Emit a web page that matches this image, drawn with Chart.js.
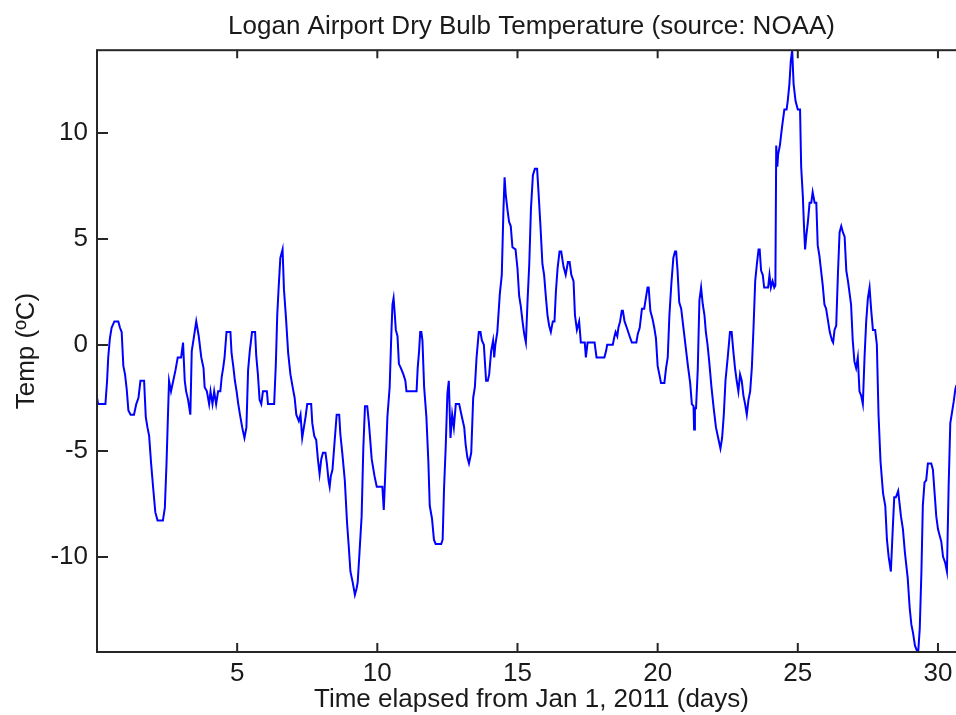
<!DOCTYPE html>
<html>
<head>
<meta charset="utf-8">
<script src="https://cdn.jsdelivr.net/npm/chart.js@4"></script>
<style>
  html, body { margin: 0; padding: 0; background: #fff; overflow: hidden; }
</style>
</head>
<body>
<canvas id="Chart_Temp" width="966" height="715"></canvas>
<script>
// time in days since Jan 1 2011, temperature in deg C
const dayElapsed = [
  0.00, 0.04, 0.30, 0.36, 0.40, 0.46, 0.52, 0.62, 0.76, 0.82, 0.88, 0.94, 1.00, 1.06, 1.12, 1.20, 1.32, 1.40, 1.48, 1.55,
  1.68, 1.74, 1.80, 1.86, 1.93, 2.00, 2.08, 2.16, 2.35, 2.42, 2.48, 2.53, 2.57, 2.64, 2.72, 2.80, 2.88, 3.00, 3.07, 3.13,
  3.18, 3.25, 3.33, 3.38, 3.45, 3.54, 3.63, 3.72, 3.80,
  3.84, 3.92, 4.00, 4.05, 4.12, 4.18, 4.25, 4.32, 4.40, 4.45, 4.50, 4.55, 4.62, 4.76, 4.80, 4.86, 4.92, 4.98, 5.04, 5.10,
  5.18, 5.26, 5.33, 5.39, 5.45, 5.53, 5.64, 5.68, 5.74, 5.80, 5.86, 5.92, 6.06, 6.10, 6.32, 6.38, 6.43, 6.48, 6.54, 6.62,
  6.67, 6.74, 6.82, 6.90, 6.98, 7.05, 7.11, 7.20,
  7.26, 7.32, 7.38, 7.44, 7.50, 7.64, 7.68, 7.75, 7.82, 7.88, 7.94, 8.00, 8.06, 8.15, 8.20, 8.26, 8.30, 8.34, 8.40, 8.48,
  8.55, 8.64, 8.68, 8.75, 8.84, 8.92, 8.98, 9.04, 9.12, 9.20, 9.26, 9.30, 9.36, 9.44, 9.50, 9.56, 9.64, 9.70, 9.80, 9.90,
  9.98, 10.18, 10.23, 10.28, 10.36, 10.44, 10.50, 10.54, 10.58, 10.62,
  10.66, 10.72, 10.77, 10.84, 10.93, 11.00, 11.04, 11.40, 11.44, 11.49, 11.53, 11.57, 11.61, 11.67, 11.75, 11.82, 11.87, 11.95, 12.02, 12.08,
  12.28, 12.33, 12.38, 12.44, 12.50, 12.55, 12.61, 12.67, 12.73, 12.80, 12.92, 13.00, 13.10, 13.15, 13.21, 13.27, 13.35, 13.42, 13.48, 13.54,
  13.62, 13.68, 13.73, 13.80, 13.88, 13.94, 13.99, 14.06, 14.13, 14.17, 14.21, 14.28, 14.37, 14.44, 14.50, 14.54,
  14.58, 14.64, 14.70, 14.76, 14.82, 14.93, 15.00, 15.06, 15.12, 15.18, 15.24, 15.30, 15.36, 15.42, 15.48, 15.55, 15.62, 15.70, 15.75, 15.82,
  15.89, 15.95, 16.01, 16.07, 16.13, 16.19, 16.26, 16.32, 16.37, 16.43, 16.50, 16.56, 16.64, 16.72, 16.80, 16.86, 16.92, 17.00, 17.05, 17.12,
  17.20, 17.26, 17.40, 17.44, 17.50, 17.75, 17.82, 18.10,
  18.16, 18.20, 18.40, 18.46, 18.50, 18.56, 18.60, 18.66, 18.72, 18.76, 18.82, 18.90, 19.00, 19.08, 19.24, 19.29, 19.36, 19.44, 19.52, 19.58,
  19.64, 19.68, 19.74, 19.82, 19.88, 19.94, 20.00, 20.06, 20.12, 20.24, 20.30, 20.36, 20.42, 20.49, 20.56, 20.62, 20.66, 20.71, 20.77, 20.84,
  20.92, 21.00, 21.08, 21.16, 21.22, 21.28, 21.30, 21.33, 21.37, 21.43, 21.49, 21.55, 21.61, 21.67,
  21.72, 21.78, 21.84, 21.92, 22.00, 22.08, 22.16, 22.24, 22.30, 22.36, 22.42, 22.50, 22.58, 22.64, 22.70, 22.76, 22.82, 22.88, 22.94, 23.00,
  23.06, 23.12, 23.18, 23.24, 23.30, 23.36,
  23.42, 23.48, 23.54, 23.60, 23.64, 23.69, 23.75, 23.80, 23.94, 23.99, 24.04, 24.10, 24.16, 24.20, 24.23, 24.27, 24.30, 24.36, 24.44, 24.52,
  24.60, 24.64, 24.70, 24.75, 24.80, 24.85, 24.92, 25.00, 25.08, 25.12, 25.18, 25.22, 25.26, 25.30, 25.36, 25.42, 25.48, 25.53, 25.60, 25.66,
  25.71, 25.77, 25.83, 25.89, 25.95, 26.01, 26.07, 26.14, 26.22, 26.26, 26.31, 26.37, 26.43, 26.49, 26.55, 26.61, 26.67, 26.73, 26.79, 26.85,
  26.90, 26.96, 27.02, 27.08, 27.14, 27.20, 27.26, 27.32, 27.38, 27.44, 27.50, 27.56, 27.62, 27.68, 27.76, 27.82, 27.88, 27.95, 28.04, 28.12,
  28.18, 28.24, 28.32, 28.38, 28.44, 28.50, 28.58, 28.68, 28.75, 28.82, 28.92, 28.99, 29.05, 29.11, 29.18, 29.24, 29.30, 29.35, 29.41, 29.46,
  29.52, 29.58, 29.64, 29.76, 29.82, 29.88, 29.94, 30.00, 30.06, 30.12, 30.18, 30.26, 30.32, 30.38, 30.44, 30.50, 30.56, 30.62, 30.66
];

const dryBulbC = [
  -2.5, -2.8, -2.8, -1.7, -0.6, 0.3, 0.8, 1.1, 1.1, 0.8, 0.6, -1.0, -1.4, -2.1, -3.1, -3.3, -3.3, -2.8, -2.5, -1.7,
  -1.7, -3.4, -3.9, -4.3, -5.6, -6.7, -7.9, -8.3, -8.3, -7.7, -5.6, -3.4, -1.7, -2.2, -1.7, -1.2, -0.6, -0.6, 0.1, -1.7,
  -2.2, -2.6, -3.3, -0.3, 0.3, 1.1, 0.4, -0.6, -1.1,
  -2.0, -2.2, -2.8, -2.2, -2.8, -2.2, -2.8, -2.2, -2.2, -1.5, -1.1, -0.6, 0.6, 0.6, -0.4, -1.0, -1.7, -2.2, -2.8, -3.3,
  -3.9, -4.4, -3.9, -1.2, -0.3, 0.6, 0.6, -0.5, -1.4, -2.6, -2.8, -2.2, -2.2, -2.8, -2.8, -0.9, 1.4, 2.7, 4.1, 4.5,
  2.6, 1.3, -0.4, -1.4, -2.0, -2.5, -3.3, -3.6,
  -3.3, -4.4, -3.9, -3.4, -2.8, -2.8, -3.7, -4.3, -4.5, -5.4, -6.1, -5.4, -5.1, -5.1, -5.6, -6.4, -6.7, -6.2, -5.9, -4.5,
  -3.3, -3.3, -4.2, -5.1, -6.4, -8.4, -9.5, -10.7, -11.2, -11.8, -11.5, -11.2, -9.9, -8.1, -4.9, -2.9, -2.9, -3.7, -5.4, -6.2,
  -6.7, -6.7, -7.8, -6.2, -3.4, -2.0, 0.5, 1.9, 2.2, 1.5,
  0.7, 0.4, -0.9, -1.1, -1.4, -1.7, -2.2, -2.2, -1.1, -0.3, 0.6, 0.6, 0.2, -2.0, -3.4, -5.5, -7.6, -8.2, -9.2, -9.4,
  -9.4, -9.2, -6.8, -4.8, -2.3, -1.7, -4.4, -3.3, -3.9, -2.8, -2.8, -3.3, -3.9, -4.7, -5.3, -5.6, -5.1, -2.5, -2.0, -0.6,
  0.6, 0.6, 0.2, 0.0, -1.7, -1.7, -1.4, -0.3, 0.2, -0.6, 0.0, 0.6, 2.4, 3.3, 6.4, 7.9,
  7.1, 6.4, 5.8, 5.6, 4.6, 4.5, 3.6, 2.3, 1.8, 1.1, 0.5, 0.1, 2.1, 3.8, 6.4, 8.0, 8.3, 8.3, 7.2, 5.6,
  3.8, 3.3, 2.3, 1.4, 0.9, 0.6, 1.1, 1.1, 2.5, 3.6, 4.4, 4.4, 3.7, 3.3, 3.9, 3.9, 3.3, 3.0, 1.4, 0.7,
  1.1, 0.1, 0.1, -0.6, 0.1, 0.1, -0.6, -0.6,
  -0.3, 0.0, 0.0, 0.4, 0.6, 0.4, 0.8, 1.1, 1.6, 1.6, 1.1, 0.8, 0.4, 0.1, 0.1, 0.5, 0.8, 1.7, 1.7, 2.2,
  2.7, 2.7, 1.6, 1.2, 0.8, 0.3, -1.0, -1.4, -1.8, -1.8, -1.1, -0.6, 1.4, 2.9, 4.1, 4.4, 4.4, 3.5, 2.0, 1.7,
  0.8, -0.1, -1.0, -1.8, -2.8, -2.9, -4.0, -3.0, -3.0, -1.2, 2.1, 2.7, 1.9, 1.4,
  0.6, 0.0, -0.8, -2.0, -3.0, -3.9, -4.4, -4.9, -4.4, -3.3, -1.7, -0.6, 0.6, 0.6, -0.3, -1.1, -1.7, -2.2, -1.4, -1.7,
  -2.4, -2.8, -3.3, -2.6, -2.2, -1.1,
  0.8, 3.0, 3.8, 4.5, 4.5, 3.5, 3.3, 2.7, 2.7, 3.3, 2.7, 3.0, 2.7, 2.8, 9.4, 8.4, 9.0, 9.4, 10.3, 11.1,
  11.1, 11.5, 12.3, 13.4, 13.9, 12.3, 11.5, 11.1, 11.1, 8.4, 7.0, 5.6, 4.5, 5.1, 5.8, 6.7, 6.7, 7.2, 6.7, 6.7,
  4.7, 4.2, 3.5, 2.8, 1.9, 1.7, 1.2, 0.6, 0.2, 0.1, 0.7, 0.9, 3.3, 5.3, 5.6, 5.3, 5.1, 3.5, 3.0, 2.4,
  1.9, 0.2, -0.8, -1.1, -0.6, -2.2, -2.4, -2.8, -0.6, 1.1, 2.2, 2.7, 1.6, 0.7, 0.7, 0.0, -3.3, -5.5, -7.0, -7.6,
  -9.2, -10.0, -10.7, -8.9, -7.2, -7.2, -6.9, -8.1, -8.7, -9.8, -11.0, -12.4, -13.2, -13.6, -14.2, -14.4, -14.4, -13.4, -10.7, -7.6,
  -6.5, -6.4, -5.6, -5.6, -5.9, -7.0, -8.1, -8.7, -9.0, -9.3, -10.0, -10.3, -10.7, -6.7, -3.7, -3.2, -2.7, -2.1, -1.9
];

const xTickValues = [5, 10, 15, 20, 25, 30];
const yTickValues = [-10, -5, 0, 5, 10];

const points = dayElapsed.map((d, i) => ({ x: d, y: dryBulbC[i] }));

const txtFont = { family: "Liberation Sans", size: 26, weight: "normal" };
const txtColor = "#1a1a1a";

// box round the axes with inward tick marks, like the matlab figure
const axesBox = {
  id: "axesBox",
  afterDatasetsDraw(chart) {
    const { ctx, chartArea: a, scales } = chart;
    ctx.save();
    ctx.strokeStyle = "#262626";
    ctx.lineWidth = 2;
    ctx.strokeRect(a.left, a.top, a.right - a.left, a.bottom - a.top);
    ctx.beginPath();
    scales.x.ticks.forEach(t => {
      const px = scales.x.getPixelForValue(t.value);
      ctx.moveTo(px, a.bottom); ctx.lineTo(px, a.bottom - 9);
      ctx.moveTo(px, a.top); ctx.lineTo(px, a.top + 8);
    });
    scales.y.ticks.forEach(t => {
      const py = Math.round(scales.y.getPixelForValue(t.value));
      ctx.moveTo(a.left, py); ctx.lineTo(a.left + 11, py);
    });
    ctx.stroke();
    ctx.restore();
  }
};

new Chart(document.getElementById("Chart_Temp"), {
  type: "line",
  data: {
    datasets: [
      {
        data: points,
        borderColor: "#0000ff",
        borderWidth: 2,
        pointRadius: 0,
        tension: 0,
        fill: false,
      },
    ],
  },
  options: {
    responsive: false,
    animation: false,
    devicePixelRatio: 1,
    layout: { padding: 0 },
    plugins: {
      legend: { display: false },
      tooltip: { enabled: false },
      title: {
        display: true,
        fullSize: false,
        text: "Logan Airport Dry Bulb Temperature (source: NOAA)",
        color: txtColor,
        font: txtFont,
        padding: { top: 11, bottom: 8 },
      },
    },
    scales: {
      x: {
        type: "linear",
        min: 0,
        max: 31,
        grid: { display: false, drawTicks: false },
        border: { display: false },
        afterBuildTicks: s => { s.ticks = xTickValues.map(v => ({ value: v })); },
        afterFit: s => { s.height = 63; },
        ticks: { padding: 6, color: txtColor, font: txtFont, maxRotation: 0, autoSkip: false },
        title: {
          display: true,
          text: "Time elapsed from Jan 1, 2011 (days)",
          color: txtColor,
          font: txtFont,
          padding: { top: 0, bottom: 0 },
        },
      },
      y: {
        min: -14.5,
        max: 13.9,
        grid: { display: false, drawTicks: false },
        border: { display: false },
        afterBuildTicks: s => { s.ticks = yTickValues.map(v => ({ value: v })); },
        afterFit: s => { s.width = 97; },
        ticks: { padding: 9, color: txtColor, font: txtFont, autoSkip: false },
        title: {
          display: true,
          text: "Temp (ºC)",
          color: txtColor,
          font: txtFont,
          padding: { top: 11, bottom: 0 },
        },
      },
    },
  },
  plugins: [axesBox],
});
</script>
</body>
</html>
